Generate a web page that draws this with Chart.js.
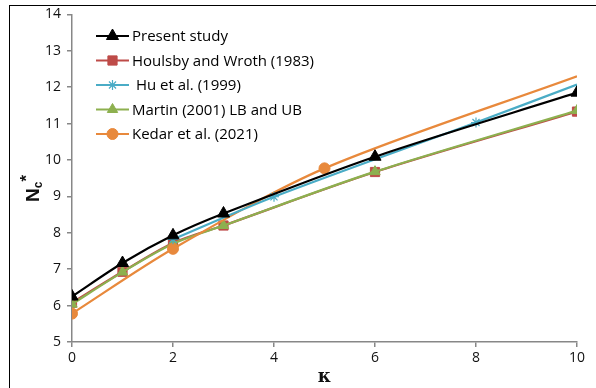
<!DOCTYPE html>
<html><head><meta charset="utf-8">
<script src="https://cdn.jsdelivr.net/npm/chart.js@4.4.1/dist/chart.umd.min.js"></script>
<style>html,body{margin:0;padding:0;background:#fff}#wrap{width:596px;height:388px;position:relative}</style>
</head><body><div id="wrap"><canvas id="c" width="596" height="388"></canvas></div>
<script>
const presentX = [0, 1, 2, 3, 6, 10];
const presentY = [6.25, 7.17, 7.93, 8.53, 10.09, 11.85];
const houlsbyX = [0, 1, 2, 3, 6, 10];
const houlsbyY = [6.08, 6.93, 7.72, 8.2, 9.67, 11.33];
const huX = [2, 4, 8, 10];
const huY = [7.82, 8.99, 11.03, 12.07];
const martinX = [0, 1, 2, 3, 6, 10];
const martinY = [6.04, 6.92, 7.7, 8.2, 9.68, 11.36];
const kedarX = [0, 2, 5, 10];
const kedarY = [5.78, 7.56, 9.77, 12.3];
const xTicks = [0, 2, 4, 6, 8, 10];
const yTicks = [5, 6, 7, 8, 9, 10, 11, 12, 13, 14];
const labels = ['Present study', 'Houlsby and Wroth (1983)', ' Hu et al. (1999)', 'Martin (2001) LB and UB', 'Kedar et al. (2021)'];

const pts = (xs, ys) => xs.map((x, i) => ({x, y: ys[i]}));
const FONT = "'Open Sans', 'Liberation Sans', sans-serif";

const datasets = [
  {label: labels[1], data: pts(houlsbyX, houlsbyY), borderColor: '#BE4B48', backgroundColor: '#BE4B48', pointStyle: 'rect', pointRadius: 6.5, order: 4},
  {label: labels[3], data: pts(martinX, martinY), borderColor: '#8DB04F', backgroundColor: '#8DB04F', pointStyle: 'triangle', pointRadius: 6, order: 3},
  {label: labels[4], data: pts(kedarX, kedarY), borderColor: '#E8893C', backgroundColor: '#E8893C', pointStyle: 'circle', pointRadius: [5.5, 5.5, 5.5, 0], order: 2},
  {label: labels[2], data: pts(huX, huY), borderColor: '#4AACC6', backgroundColor: '#4AACC6', pointStyle: 'star', pointRadius: [5, 5, 5, 0], pointBorderWidth: 1.2, order: 1},
  {label: labels[0], data: pts(presentX, presentY), borderColor: '#000', backgroundColor: '#000', pointStyle: 'triangle', pointRadius: 7, order: 0},
];
datasets.forEach(d => { d.borderWidth = 2.2; d.tension = 0.3; d.fill = false; if (!d.pointBorderWidth) d.pointBorderWidth = 1; });

const legendOrder = [4, 0, 3, 1, 2];
const legendPlugin = {
  id: 'customLegend',
  beforeDraw(chart) {
    const ctx = chart.ctx;
    ctx.save();
    ctx.fillStyle = '#fff'; ctx.fillRect(0, 0, chart.width, chart.height);
    ctx.strokeStyle = '#000'; ctx.lineWidth = 1;
    ctx.strokeRect(9.5, 5.5, 600, 400);
    ctx.restore();
  },
  afterDraw(chart) {
    const ctx = chart.ctx;
    ctx.save();
    legendOrder.forEach((di, row) => {
      const ds = chart.data.datasets[di];
      const y = 36 + row * 24.5;
      ctx.strokeStyle = ds.borderColor; ctx.lineWidth = 2.2;
      ctx.beginPath(); ctx.moveTo(96, y); ctx.lineTo(129, y); ctx.stroke();
      const r = Array.isArray(ds.pointRadius) ? ds.pointRadius[0] : ds.pointRadius;
      ctx.fillStyle = ds.backgroundColor; ctx.strokeStyle = ds.borderColor; ctx.lineWidth = ds.pointBorderWidth;
      Chart.helpers.drawPoint(ctx, {pointStyle: ds.pointStyle, radius: r, borderWidth: ds.pointBorderWidth}, 112.5, y);
      ctx.fillStyle = '#000';
      ctx.font = '15px ' + FONT;
      ctx.textBaseline = 'middle';
      ctx.textAlign = 'left';
      ctx.fillText(ds.label, 132, y + 1);
    });
    ctx.restore();
  }
};

new Chart(document.getElementById('c'), {
  type: 'line',
  data: {datasets},
  plugins: [legendPlugin],
  options: {
    responsive: false, animation: false, devicePixelRatio: 1,
    layout: {padding: {top: 9, right: 19, left: 10, bottom: 0}},
    plugins: {legend: {display: false}, tooltip: {enabled: false}},
    scales: {
      x: {
        type: 'linear', min: 0, max: 10,
        afterBuildTicks: s => { s.ticks = xTicks.map(v => ({value: v})); },
        grid: {drawOnChartArea: false, drawTicks: true, tickLength: 5, color: '#878787', lineWidth: 1.5},
        border: {color: '#878787', width: 1.5},
        ticks: {color: '#111', font: {size: 14, family: FONT}, padding: 3, maxRotation: 0},
        title: {display: true, text: 'κ', color: '#111', font: {size: 18, weight: 'bold', family: "'DejaVu Serif', serif"}, padding: {top: 0, bottom: 0}},
        afterFit: s => { s.height = 46; }
      },
      y: {
        type: 'linear', min: 5, max: 14,
        afterBuildTicks: s => { s.ticks = yTicks.map(v => ({value: v})); },
        grid: {drawOnChartArea: false, drawTicks: true, tickLength: 5, color: '#878787', lineWidth: 1.5},
        border: {color: '#878787', width: 1.5},
        ticks: {color: '#111', font: {size: 14, family: FONT}, padding: 6},
        title: {display: false},
        afterFit: s => { s.width = 62; }
      }
    }
  }
});
</script>
<div style="position:absolute;left:12px;top:168px;width:30px;height:40px;">
<div style="position:absolute;left:0;top:0;transform:rotate(-90deg);transform-origin:center;font:bold 19px 'Liberation Sans',sans-serif;color:#111;white-space:nowrap;width:40px;text-align:center;line-height:30px;">N<sub style="font-size:12px;vertical-align:-3px">c</sub><sup style="font-size:17px;vertical-align:7px">*</sup></div>
</div>
</div>
</body></html>
